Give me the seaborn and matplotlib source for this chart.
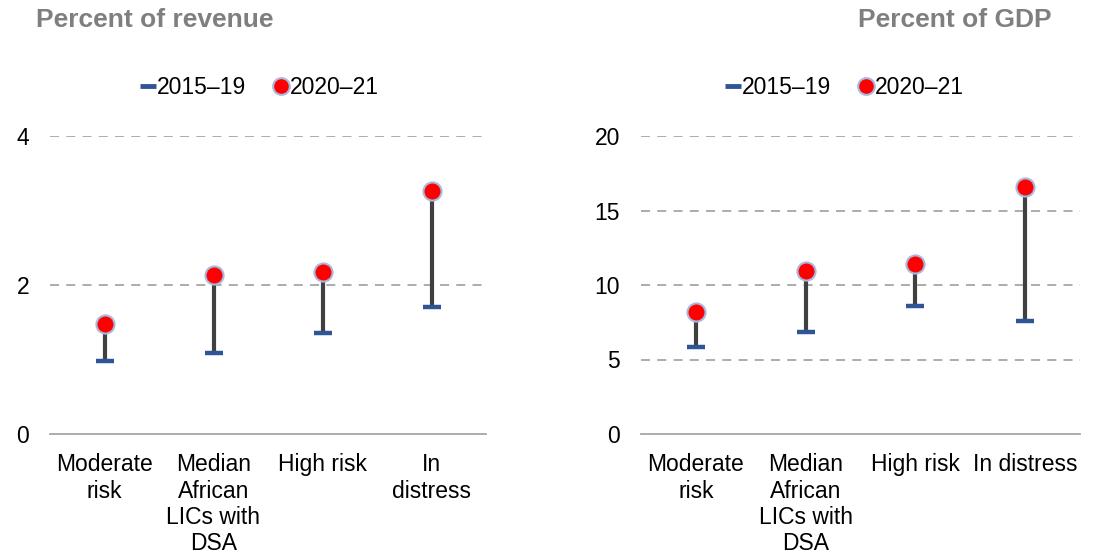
import numpy as np
import pandas as pd
import seaborn as sns
import matplotlib.pyplot as plt
from matplotlib.lines import Line2D

sns.set_style("white")
plt.rcParams['font.family'] = ['Liberation Sans', 'DejaVu Sans']
plt.rcParams['text.color'] = 'black'
plt.rcParams['xtick.color'] = 'black'
plt.rcParams['ytick.color'] = 'black'

# data
cats_left = ["Moderate\nrisk", "Median\nAfrican\nLICs with\nDSA", "High risk", "In\ndistress"]
cats_right = ["Moderate\nrisk", "Median\nAfrican\nLICs with\nDSA", "High risk", "In distress"]
rev_2015_19 = [0.98, 1.09, 1.36, 1.70]
rev_2020_21 = [1.48, 2.13, 2.17, 3.26]
gdp_2015_19 = [5.84, 6.87, 8.61, 7.60]
gdp_2020_21 = [8.19, 10.94, 11.39, 16.56]

BLUE = "#2F5597"
RED = "#FF0000"
EDGE = "#A9B8DE"
STEM = "#404040"
GRID = "#A6A6A6"

fig = plt.figure(figsize=(11.07, 5.57), dpi=100)
ax1 = fig.add_axes([50 / 1107, 1 - 434 / 557, 436 / 1107, 298 / 557])
ax2 = fig.add_axes([641 / 1107, 1 - 434 / 557, 439 / 1107, 298 / 557])


def draw(ax, cats, old, new, ymax, step):
    df = pd.DataFrame({"cat": cats, "old": old, "new": new})
    pos = np.arange(len(cats))
    ax.vlines(pos, df["old"], df["new"], color=STEM, lw=3, zorder=2)
    sns.scatterplot(data=df, x="cat", y="old", marker="_", s=180, linewidth=3.2,
                    color=BLUE, ax=ax, zorder=3, clip_on=False)
    sns.scatterplot(data=df, x="cat", y="new", marker="o", s=170, color=RED,
                    edgecolor=EDGE, linewidth=1.5, ax=ax, zorder=4, clip_on=False)
    ax.set_xlim(-0.5, len(cats) - 0.5)
    ax.set_ylim(0, ymax)
    ax.set_yticks(np.arange(0, ymax + 0.01, step))
    for y in np.arange(step, ymax + 0.01, step):
        ax.axhline(y, color=GRID, lw=1.3, ls=(0, (5, 4)), zorder=1)
    ax.set_xlabel("")
    ax.set_ylabel("")
    ax.set_xticks(pos)
    ax.set_xticklabels(cats, fontsize=16.5, va="top")
    ax.tick_params(axis="y", labelsize=16.5, length=0, pad=15)
    ax.tick_params(axis="x", length=0, pad=14)
    for s in ["top", "right", "left"]:
        ax.spines[s].set_visible(False)
    ax.spines["bottom"].set_color("#A6A6A6")
    ax.spines["bottom"].set_linewidth(1.3)
    for lbl in ax.get_xticklabels():
        lbl.set_linespacing(1.17)


draw(ax1, cats_left, rev_2015_19, rev_2020_21, 4, 2)
draw(ax2, cats_right, gdp_2015_19, gdp_2020_21, 20, 5)

handles = [
    Line2D([], [], color=BLUE, marker="_", ls="none", markersize=11, mew=3.5),
    Line2D([], [], color=RED, marker="o", ls="none", markersize=12,
           markeredgecolor=EDGE, mew=1.5),
]
for ax, cx in [(ax1, 260 / 1107), (ax2, 845 / 1107)]:
    ax.legend(handles, ["2015–19", "2020–21"], loc="center", ncol=2,
              bbox_to_anchor=(cx, 1 - 88 / 557), bbox_transform=fig.transFigure,
              frameon=False, fontsize=16.5, handlelength=0.6, handletextpad=0.1,
              columnspacing=1.2)

fig.text(36 / 1107, 1 - 20 / 557, "Percent of revenue", fontsize=19,
         fontweight="bold", color="#7F7F7F", ha="left", va="center")
fig.text(1052 / 1107, 1 - 20 / 557, "Percent of GDP", fontsize=19,
         fontweight="bold", color="#7F7F7F", ha="right", va="center")

fig.savefig("out.png", dpi=100)
